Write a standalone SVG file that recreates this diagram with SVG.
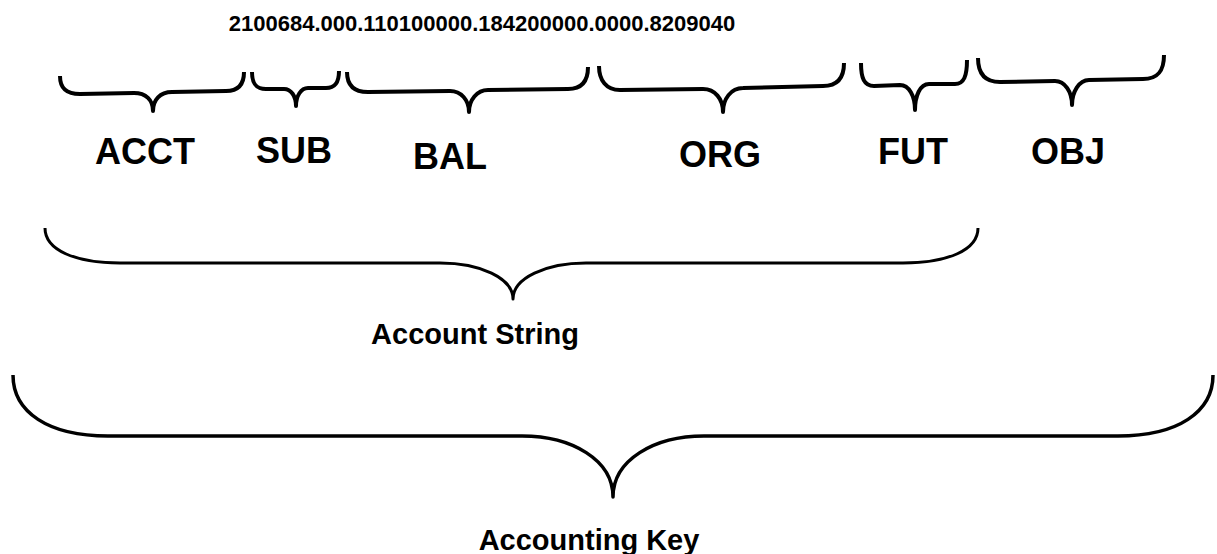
<svg xmlns="http://www.w3.org/2000/svg" width="1217" height="554" viewBox="0 0 1217 554">
  <style>
    .bg { fill: #ffffff; }
    .brace { fill: none; stroke: #000000; stroke-linecap: butt; stroke-linejoin: round; }
    .small { stroke-width: 4; }
    .mid { stroke-width: 3; }
    .big { stroke-width: 3.5; }
    .txt { font-family: "Liberation Sans", Arial, sans-serif; font-weight: bold; fill: #000000; text-anchor: middle; }
    .code { font-size: 22px; }
    .seg { font-size: 36px; }
    .cap { font-size: 29px; }
  </style>
  <rect class="bg" x="0" y="0" width="1217" height="554"/>

  <text class="txt code" x="482" y="31">2100684.000.110100000.184200000.0000.8209040</text>

  <!-- segment braces -->
  <g id="braces">
    <path class="brace small" d="M60,76 C60,88 66,94 80,94 L134,93 C146,93 153,100 153,111 C153,100 160,92 172,92 L226,91 C238,91 244,85 244,72"/>
    <path class="brace small" d="M252,72 C252,84 256,89 266,89 L284,89 C291,89 296,96 296,106 C296,96 301,88 308,88 L326,88 C334,88 339,84 339,71"/>
    <path class="brace small" d="M347,72 C347,85 354,92 368,92 L450,91 C461,91 469,100 469,112 C469,100 477,90 488,90 L568,89 C581,89 588,82 588,67"/>
    <path class="brace small" d="M599,66 C599,80 606,90 620,90 L703,89 C715,89 723,99 723,112 C723,99 731,88 743,88 L823,86 C837,86 844,78 844,63"/>
    <path class="brace small" d="M861,63 C861,78 864,86 874,86 L900,85 C909,85 915,96 915,110 C915,96 920,84 929,84 L955,84 C964,84 967,76 967,60"/>
    <path class="brace small" d="M978,58 C978,74 985,82 1000,82 L1055,81 C1065,81 1072,92 1072,105 C1072,92 1079,80 1089,80 L1143,79 C1158,79 1164,71 1164,55"/>
  </g>

  <g id="segments">
    <g id="node-acct"><text class="txt seg" x="145" y="164">ACCT</text></g>
    <g id="node-sub"><text class="txt seg" x="294" y="163">SUB</text></g>
    <g id="node-bal"><text class="txt seg" x="450" y="169">BAL</text></g>
    <g id="node-org"><text class="txt seg" x="720" y="167">ORG</text></g>
    <g id="node-fut"><text class="txt seg" x="913" y="164">FUT</text></g>
    <g id="node-obj"><text class="txt seg" x="1068" y="164">OBJ</text></g>
  </g>

  <!-- account string brace -->
  <g id="node-account-string">
    <path class="brace mid" d="M45,228 C45,250 75,263 120,263 L440,263 C480,263 513,278 513,299 C513,278 546,263 586,263 L903,263 C948,263 978,250 978,228"/>
    <text class="txt cap" x="475" y="344">Account String</text>
  </g>

  <!-- accounting key brace -->
  <g id="node-accounting-key">
    <path class="brace big" d="M13,375 C13,412 48,436 108,436 L522,436 C572,436 613,460 613,497 C613,460 654,436 704,436 L1118,436 C1178,436 1213,412 1213,375"/>
    <text class="txt cap" x="589" y="550">Accounting Key</text>
  </g>
</svg>
